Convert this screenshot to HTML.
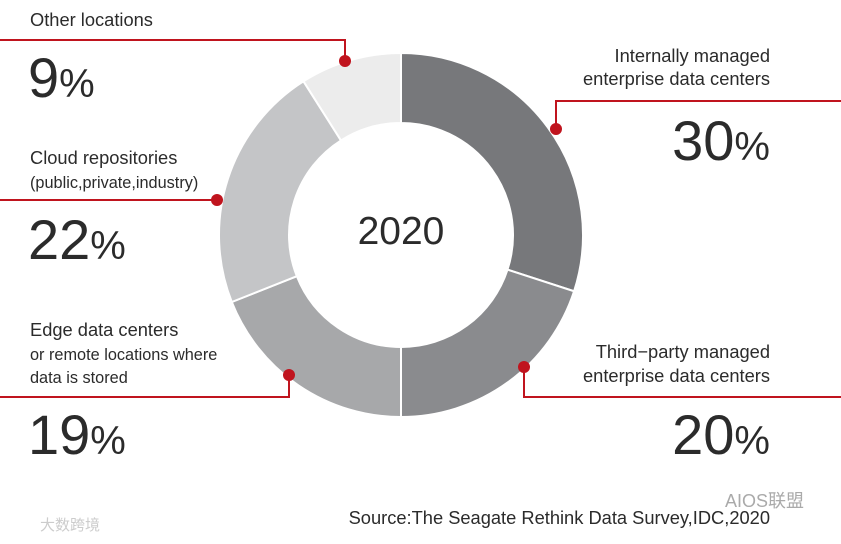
<!DOCTYPE html>
<html><head><meta charset="utf-8"><style>
body{margin:0;background:#fff;width:841px;height:539px;overflow:hidden}
svg text{font-family:"Liberation Sans","Noto Sans CJK SC",sans-serif;fill:#2b2b2b}
.l{font-size:18.3px}.s{font-size:16.3px}.big{font-size:56px}.pc{font-size:40px}
</style></head><body>
<svg width="841" height="539">
<g id="ring"></g>
<text x="401" y="244" text-anchor="middle" font-size="39">2020</text>
<g fill="none" stroke="#c0141e" stroke-width="2">
<polyline points="0,40 345,40 345,61"/>
<polyline points="841,101 556,101 556,129"/>
<polyline points="0,200 217,200"/>
<polyline points="0,397 289,397 289,375"/>
<polyline points="841,397 524,397 524,367"/>
</g>
<g fill="#c0141e">
<circle cx="345" cy="61" r="6"/><circle cx="556" cy="129" r="6"/><circle cx="217" cy="200" r="6"/><circle cx="289" cy="375" r="6"/><circle cx="524" cy="367" r="6"/>
</g>
<g><text class="l" x="30" y="26">Other locations</text><text x="28" y="97"><tspan class="big">9</tspan><tspan class="pc">%</tspan></text></g>
<g text-anchor="end"><text class="l" x="770" y="62">Internally managed</text><text class="l" x="770" y="85">enterprise data centers</text><text x="770" y="160"><tspan class="big">30</tspan><tspan class="pc">%</tspan></text></g>
<g><text class="l" x="30" y="164">Cloud repositories</text><text class="s" x="30" y="188">(public,private,industry)</text><text x="28" y="259"><tspan class="big">22</tspan><tspan class="pc">%</tspan></text></g>
<g><text class="l" x="30" y="336">Edge data centers</text><text class="s" x="30" y="360">or remote locations where</text><text class="s" x="30" y="383">data is stored</text><text x="28" y="454"><tspan class="big">19</tspan><tspan class="pc">%</tspan></text></g>
<g text-anchor="end"><text class="l" x="770" y="358">Third−party managed</text><text class="l" x="770" y="382">enterprise data centers</text><text x="770" y="454"><tspan class="big">20</tspan><tspan class="pc">%</tspan></text></g>
<text class="l" x="770" y="524" text-anchor="end">Source:The Seagate Rethink Data Survey,IDC,2020</text>
<text x="725" y="507" font-size="18" style="fill:#aaa">AIOS联盟</text>
<text x="40" y="530" font-size="15" style="fill:#ccc">大数跨境</text>
</svg>
<script>
const segLabels=["Internally managed","Third-party managed","Edge","Cloud","Other"];
const segValues=[30,20,19,22,9];
const segColors=["#77787b","#8a8b8e","#a7a8aa","#c4c5c7","#ececec"];
const cx=401,cy=235,R=182,r=112;
const g=document.getElementById('ring');
const total=segValues.reduce((a,b)=>a+b,0);
let a0=0;
function pt(rad,a){return [cx+rad*Math.sin(a),cy-rad*Math.cos(a)];}
segValues.forEach((v,i)=>{
  const a1=a0+v/total*2*Math.PI;
  const lg=(a1-a0)>Math.PI?1:0;
  const p1=pt(R,a0),p2=pt(R,a1),p3=pt(r,a1),p4=pt(r,a0);
  const p=document.createElementNS('http://www.w3.org/2000/svg','path');
  p.setAttribute('d',`M${p1}A${R},${R} 0 ${lg} 1 ${p2}L${p3}A${r},${r} 0 ${lg} 0 ${p4}Z`);
  p.setAttribute('fill',segColors[i]);
  p.setAttribute('stroke','#fff');
  p.setAttribute('stroke-width','2');
  
  
  g.appendChild(p);
  a0=a1;
});
</script>
</body></html>
